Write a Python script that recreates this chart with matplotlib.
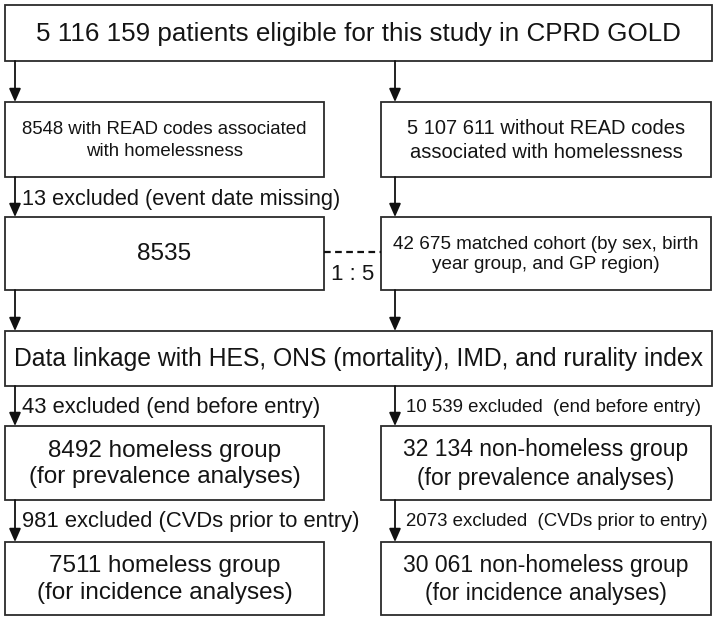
import matplotlib
matplotlib.use("Agg")
import matplotlib.pyplot as plt
from matplotlib.patches import Rectangle, FancyArrowPatch

MAIN = "Liberation Sans"

# ---- content ----
top_text = "5 116 159 patients eligible for this study in CPRD GOLD"
left_texts = ["8548 with READ codes associated\nwith homelessness",
              "8535",
              "8492 homeless group\n(for prevalence analyses)",
              "7511 homeless group\n(for incidence analyses)"]
right_texts = ["5 107 611 without READ codes\nassociated with homelessness",
               "42 675 matched cohort (by sex, birth\nyear group, and GP region)",
               "32 134 non-homeless group\n(for prevalence analyses)",
               "30 061 non-homeless group\n(for incidence analyses)"]
linkage_text = "Data linkage with HES, ONS (mortality), IMD, and rurality index"
left_excl = ["13 excluded (event date missing)",
             "43 excluded (end before entry)",
             "981 excluded (CVDs prior to entry)"]
right_excl = ["10 539 excluded  (end before entry)",
              "2073 excluded  (CVDs prior to entry)"]
ratio_text = "1 : 5"

# ---- layout (pixels) ----
W, H = 720, 622
fig = plt.figure(figsize=(W / 100, H / 100), dpi=100)
ax = fig.add_axes([0, 0, 1, 1])
ax.set_xlim(0, W)
ax.set_ylim(H, 0)
ax.axis("off")

EC = "#2b2b2b"
TC = "#141414"
LW = 1.3

def box(x0, y0, x1, y1):
    ax.add_patch(Rectangle((x0, y0), x1 - x0, y1 - y0, facecolor="white",
                           edgecolor=EC, linewidth=LW))

def arrow(x, y0, y1):
    ax.add_patch(FancyArrowPatch((x, y0), (x, y1), arrowstyle="-|>,head_length=5,head_width=2.2",
                                 mutation_scale=1.6, color="#111111", linewidth=1.3,
                                 shrinkA=0, shrinkB=0))

LX0, LX1 = 5, 324
RX0, RX1 = 381, 711
FX1 = 712
AXL, AXR = 15, 395

rows = [(102, 177), (217, 290), (426, 500), (542, 615)]
top_box = (5, 61)
link_box = (331, 386)

# top box
box(5, top_box[0], FX1, top_box[1])
ax.text((5 + FX1) / 2, 34, top_text, ha="center", va="center", fontsize=18.7, family=MAIN, color=TC)

# linkage box
box(5, link_box[0], FX1, link_box[1])
ax.text((5 + FX1) / 2, 359, linkage_text, ha="center", va="center", fontsize=17.8, family=MAIN, color=TC)

left_sizes = [13.4, 17.6, 17.5, 17.5]
right_sizes = [14.5, 13.6, 16.5, 16.5]
left_ls = [1.4, 1.2, 1.25, 1.25]
right_ls = [1.3, 1.3, 1.3, 1.3]
for i, (y0, y1) in enumerate(rows):
    box(LX0, y0, LX1, y1)
    box(RX0, y0, RX1, y1)
    ax.text((LX0 + LX1) / 2, (y0 + y1) / 2 + 1, left_texts[i], ha="center", va="center",
            fontsize=left_sizes[i], family=MAIN, color=TC, linespacing=left_ls[i])
    ax.text((RX0 + RX1) / 2, (y0 + y1) / 2 + 1, right_texts[i], ha="center", va="center",
            fontsize=right_sizes[i], family=MAIN, color=TC, linespacing=right_ls[i])

# arrows
arrow(AXL, top_box[1], rows[0][0])
arrow(AXR, top_box[1], rows[0][0])
arrow(AXL, rows[0][1], rows[1][0])
arrow(AXR, rows[0][1], rows[1][0])
arrow(AXL, rows[1][1], link_box[0])
arrow(AXR, rows[1][1], link_box[0])
arrow(AXL, link_box[1], rows[2][0])
arrow(AXR, link_box[1], rows[2][0])
arrow(AXL, rows[2][1], rows[3][0])
arrow(AXR, rows[2][1], rows[3][0])

# exclusion labels
ax.text(22, 199, left_excl[0], ha="left", va="center", fontsize=15.7, family=MAIN, color=TC)
ax.text(22, 407, left_excl[1], ha="left", va="center", fontsize=15.8, family=MAIN, color=TC)
ax.text(22, 522, left_excl[2], ha="left", va="center", fontsize=15.8, family=MAIN, color=TC)
ax.text(406, 407, right_excl[0], ha="left", va="center", fontsize=13.4, family=MAIN, color=TC)
ax.text(406, 522, right_excl[1], ha="left", va="center", fontsize=13.4, family=MAIN, color=TC)

# matching line
ax.plot([LX1, RX0], [252, 252], linestyle=(0, (3, 2)), color="#111", linewidth=1.6)
ax.text((LX1 + RX0) / 2, 274, ratio_text, ha="center", va="center", fontsize=16, family=MAIN, color=TC)

fig.savefig("out.png", dpi=100, facecolor="white")
